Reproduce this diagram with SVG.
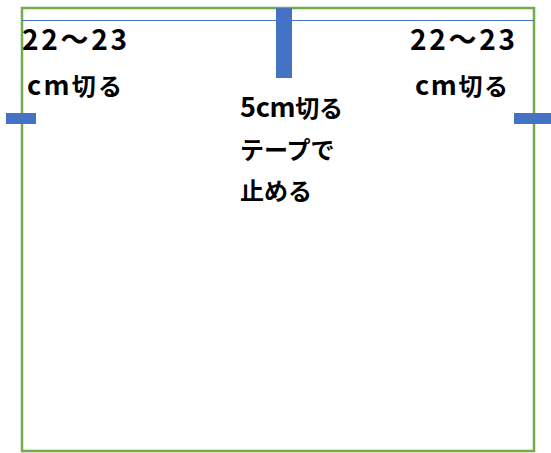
<svg xmlns="http://www.w3.org/2000/svg" width="551" height="453" viewBox="0 0 551 453">
<style>
.t{font-family:"Noto Sans CJK JP","Noto Sans",sans-serif;font-weight:bold;font-size:24px;fill:#000}
.n{font-size:28px}
.l{font-size:27px}
.bar{fill:#4472C4}
</style>
<rect width="551" height="453" fill="#fff"/>
<g id="frame">
<rect x="22" y="8" width="512" height="443" fill="none" stroke="#70AD47" stroke-width="2.5"/>
</g>
<g id="connectors">
<line x1="22" y1="20.5" x2="534" y2="20.5" stroke="#4472C4" stroke-width="1"/>
</g>
<g id="tape-center">
<rect class="bar" x="276" y="8" width="16" height="70"/>
</g>
<g id="tape-left">
<rect class="bar" x="6" y="113" width="30" height="11"/>
</g>
<g id="tape-right">
<rect class="bar" x="514" y="113" width="37" height="11"/>
</g>
<g id="label-left">
<text class="t n" x="22" y="50" textLength="105" lengthAdjust="spacing">22～23</text>
<text class="t" x="27" y="95" textLength="95" lengthAdjust="spacing"><tspan class="l">cm</tspan>切る</text>
</g>
<g id="label-right">
<text class="t n" x="410" y="50" textLength="105" lengthAdjust="spacing">22～23</text>
<text class="t" x="415" y="95" textLength="93" lengthAdjust="spacing"><tspan class="l">cm</tspan>切る</text>
</g>
<g id="label-center">
<text class="t" x="240" y="117" textLength="103" lengthAdjust="spacing"><tspan class="l">5cm</tspan>切る</text>
<text class="t" x="240" y="159">テープで</text>
<text class="t" x="240" y="200">止める</text>
</g>
</svg>
